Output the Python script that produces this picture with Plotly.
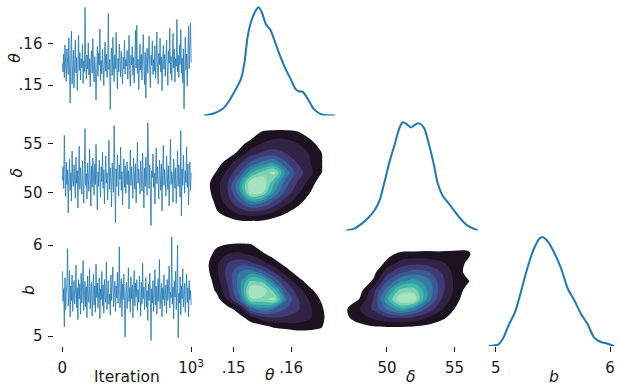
import numpy as np
import plotly.graph_objects as go

W, H = 621, 387

# ---------------- data: MCMC traces ----------------
theta = [
    0.1552, 0.1531, 0.1574, 0.1518, 0.1596, 0.1543, 0.1509, 0.1587, 0.1562, 0.1525, 0.1613, 0.1538, 0.1457, 0.1571, 0.1629, 0.1502, 0.1556, 0.1584, 0.1493, 0.1547,
    0.1608, 0.1529, 0.1566, 0.1487, 0.1551, 0.1619, 0.1535, 0.1578, 0.1512, 0.1563, 0.1541, 0.1597, 0.1504, 0.1558, 0.1532, 0.1686, 0.1548, 0.1515, 0.1572, 0.1539,
    0.1601, 0.1524, 0.1563, 0.1496, 0.1557, 0.1582, 0.1528, 0.1611, 0.1545, 0.1507, 0.1568, 0.1536, 0.1464, 0.1553, 0.1592, 0.1521, 0.1577, 0.1548, 0.1634, 0.1511,
    0.1559, 0.1527, 0.1585, 0.1542, 0.1499, 0.1566, 0.1603, 0.1533, 0.1574, 0.1518, 0.1549, 0.1671, 0.1537, 0.1561, 0.1441, 0.1555, 0.1589, 0.1523, 0.1614, 0.1546,
    0.1508, 0.1572, 0.1539, 0.1626, 0.1553, 0.1491, 0.1564, 0.1531, 0.1598, 0.1543, 0.1519, 0.1581, 0.1556, 0.1502, 0.1567, 0.1538, 0.1607, 0.1526, 0.1561, 0.1545,
    0.1583, 0.1514, 0.1552, 0.1619, 0.1534, 0.1497, 0.1571, 0.1548, 0.1592, 0.1523, 0.1566, 0.1505, 0.1557, 0.1631, 0.1541, 0.1643, 0.1528, 0.1562, 0.1489, 0.1554,
    0.1599, 0.1536, 0.1573, 0.1512, 0.1559, 0.1621, 0.1544, 0.1501, 0.1578, 0.1469, 0.1551, 0.1588, 0.1529, 0.1565, 0.1617, 0.1539, 0.1494, 0.1572, 0.1547, 0.1606,
    0.1525, 0.1561, 0.1533, 0.1594, 0.1516, 0.1558, 0.1627, 0.1542, 0.1503, 0.1576, 0.1549, 0.1612, 0.1531, 0.1567, 0.1486, 0.1555, 0.1595, 0.1538, 0.1573, 0.1521,
    0.1564, 0.1608, 0.1546, 0.1499, 0.1582, 0.1553, 0.1636, 0.1527, 0.1569, 0.1511, 0.1559, 0.1624, 0.1541, 0.1586, 0.1507, 0.1563, 0.1545, 0.1657, 0.1532, 0.1571,
    0.1518, 0.1596, 0.1549, 0.1633, 0.1528, 0.1565, 0.1505, 0.1587, 0.1443, 0.1557, 0.1615, 0.1536, 0.1574, 0.1497, 0.1562, 0.1641, 0.1539, 0.1581, 0.1648, 0.1554,
]
delta = [
    51.2, 52.6, 50.4, 55.8, 51.9, 49.6, 53.1, 50.8, 52.3, 47.9, 51.5, 53.4, 50.2, 52.0, 49.1, 54.2, 51.1, 50.6, 52.8, 51.4,
    49.4, 53.6, 50.9, 52.2, 48.4, 51.7, 54.7, 50.3, 52.5, 51.0, 49.8, 53.2, 51.6, 48.9, 52.4, 56.5, 50.7, 51.9, 49.3, 53.0,
    51.3, 50.1, 54.4, 51.8, 48.6, 52.7, 50.5, 53.5, 51.2, 49.7, 52.9, 50.8, 54.9, 51.4, 48.2, 52.1, 50.6, 53.3, 51.0, 49.5,
    52.6, 51.1, 54.1, 50.4, 52.3, 48.8, 51.6, 53.7, 50.9, 52.0, 49.2, 51.8, 55.3, 50.3, 52.5, 51.5, 48.5, 53.0, 51.2, 50.0,
    56.8, 51.7, 46.9, 52.4, 50.6, 53.8, 51.0, 49.6, 52.8, 51.3, 54.6, 50.2, 52.1, 48.7, 51.9, 53.4, 50.5, 52.7, 49.9, 51.6,
    53.1, 50.8, 52.2, 48.3, 51.4, 54.3, 50.7, 52.6, 51.1, 49.4, 53.5, 51.8, 50.3, 52.9, 48.9, 51.5, 55.1, 50.9, 52.4, 51.0,
    49.8, 53.2, 51.6, 50.1, 54.0, 51.3, 48.4, 52.5, 50.6, 53.6, 51.9, 49.7, 57.1, 51.2, 50.4, 52.8, 49.1, 46.6, 52.2, 51.5,
    53.9, 50.5, 52.0, 48.8, 51.7, 54.5, 50.9, 52.6, 51.1, 49.3, 53.3, 51.4, 50.2, 52.9, 48.1, 51.8, 54.8, 50.7, 52.3, 51.0,
    49.6, 53.7, 51.5, 50.3, 52.7, 48.6, 51.2, 55.4, 50.8, 52.1, 51.6, 49.0, 53.4, 51.9, 50.4, 52.5, 48.9, 51.3, 54.2, 50.6,
    52.8, 51.1, 49.5, 56.3, 47.6, 52.4, 50.7, 53.8, 51.4, 49.9, 52.2, 51.0, 54.6, 50.5, 52.9, 48.7, 51.7, 53.1, 50.2, 52.0,
]
b = [
    5.71, 5.38, 5.52, 5.10, 5.64, 5.29, 5.47, 5.58, 5.96, 5.33, 5.44, 5.72, 5.21, 5.55, 5.39, 5.67, 5.27, 5.49, 5.61, 5.35,
    5.46, 5.78, 5.31, 5.53, 5.18, 5.62, 5.41, 5.57, 5.24, 5.69, 5.36, 5.50, 5.83, 5.28, 5.45, 5.60, 5.32, 5.54, 5.20, 5.66,
    5.43, 5.37, 5.74, 5.30, 5.51, 5.59, 5.22, 5.48, 5.68, 5.34, 5.55, 5.26, 5.79, 5.42, 5.58, 5.31, 5.47, 5.64, 5.19, 5.52,
    5.40, 5.71, 5.33, 5.56, 5.25, 5.62, 5.44, 5.37, 5.81, 5.29, 5.50, 5.61, 5.35, 5.46, 5.23, 5.67, 5.39, 5.53, 5.76, 5.32,
    5.48, 5.60, 5.27, 5.55, 5.42, 5.70, 5.36, 5.52, 5.98, 5.31, 5.45, 5.63, 5.21, 5.57, 5.40, 5.68, 5.34, 4.99, 5.49, 5.59,
    5.30, 5.44, 5.75, 5.38, 5.53, 5.26, 5.65, 5.41, 5.56, 5.20, 5.47, 5.72, 5.33, 5.58, 5.43, 5.62, 5.28, 5.51, 5.37, 5.66,
    5.45, 5.22, 5.59, 5.35, 5.80, 5.41, 5.54, 5.29, 5.48, 5.64, 5.32, 5.50, 5.17, 5.57, 5.39, 5.69, 5.44, 4.95, 5.52, 5.36,
    5.61, 5.27, 5.46, 5.73, 5.34, 5.55, 5.24, 5.49, 5.63, 5.38, 5.84, 5.30, 5.47, 5.58, 5.21, 5.53, 5.40, 5.67, 5.33, 5.45,
    5.56, 5.25, 5.62, 5.39, 5.50, 5.77, 5.31, 5.48, 5.42, 6.09, 5.35, 5.54, 5.19, 5.60, 5.43, 5.71, 5.29, 5.52, 6.00, 4.98,
    5.47, 5.36, 5.65, 5.23, 5.55, 5.41, 5.74, 5.32, 5.49, 5.58, 5.26, 5.44, 5.68, 5.37, 5.53, 5.21, 5.61, 5.40, 5.50, 5.34,
]
n_iterations = 1000

# ---------------- data: 1-D marginal densities (diagonal) ----------------
theta_kde_x = [0.14483, 0.14638, 0.14810, 0.14925, 0.15040, 0.15126, 0.15184, 0.15241, 0.15299, 0.15385,
               0.15431, 0.15489, 0.15557, 0.15644, 0.15730, 0.15816, 0.15902, 0.15989, 0.16075, 0.16132,
               0.16207, 0.16305, 0.16391, 0.16534, 0.16764]
theta_kde_y = [0, 1.8, 7.0, 15.8, 28.0, 38.5, 54.3, 82.2, 98.0, 110.3,
               113.7, 108.5, 96.3, 89.3, 75.3, 61.2, 49.0, 38.5, 28.0, 25.5,
               24.5, 15.8, 7.0, 1.0, 0]
delta_kde_x = [46.97, 47.63, 48.12, 48.61, 49.09, 49.46, 49.82, 50.19, 50.56, 50.92,
               51.17, 51.46, 51.78, 52.14, 52.39, 52.75, 53.12, 53.48, 53.73, 54.10,
               54.58, 54.95, 55.44, 55.93, 56.73]
delta_kde_y = [0, 0.006, 0.018, 0.034, 0.055, 0.082, 0.132, 0.187, 0.233, 0.279,
               0.295, 0.290, 0.281, 0.290, 0.292, 0.279, 0.233, 0.178, 0.132, 0.096,
               0.073, 0.055, 0.032, 0.014, 0]
b_kde_x = [4.936, 5.023, 5.066, 5.109, 5.167, 5.211, 5.254, 5.297, 5.341, 5.384, 5.413,
           5.456, 5.514, 5.572, 5.630, 5.688, 5.746, 5.803, 5.861, 5.919, 5.977, 6.035]
b_kde_y = [0, 0.037, 0.181, 0.436, 0.726, 1.090, 1.489, 1.853, 2.143, 2.326, 2.348,
           2.252, 1.999, 1.672, 1.236, 0.981, 0.691, 0.473, 0.181, 0.087, 0.050, 0]

# ---------------- data: 2-D joint densities (level index) ----------------
theta_grid = [0.145, 0.147, 0.149, 0.151, 0.153, 0.155, 0.157, 0.159, 0.161, 0.163, 0.165, 0.167]
delta_grid_rows = [57, 56, 55, 54, 53, 52, 51, 50, 49, 48, 47, 46]
theta_delta_level = [
    [0, 0, 0, 0, 0, 0, 0, 0, 0, 0, 0, 0],
    [0, 0, 0, 0, 0.4, 1.3, 1.5, 1.5, 1.3, 0.6, 0, 0],
    [0, 0, 0, 0.6, 1.4, 2.0, 2.4, 2.4, 2.0, 1.5, 0.6, 0],
    [0, 0, 0.4, 1.3, 2.5, 3.2, 3.4, 3.0, 2.5, 2.0, 1.2, 0],
    [0, 0.5, 1.5, 2.8, 4.3, 5.3, 6.0, 4.2, 3.0, 2.2, 1.2, 0.2],
    [0.1, 1.1, 2.3, 4.0, 6.8, 8.4, 9.4, 5.8, 3.6, 2.5, 1.2, 0],
    [0.6, 1.5, 3.0, 5.8, 9.9, 10.0, 7.2, 4.6, 3.0, 1.8, 0.5, 0],
    [0.5, 1.5, 3.0, 5.7, 9.8, 9.2, 6.0, 3.8, 2.3, 1.2, 0, 0],
    [0, 1.3, 2.5, 4.0, 5.8, 5.2, 3.8, 2.5, 1.5, 0.5, 0, 0],
    [0, 0.9, 1.6, 2.4, 2.8, 2.6, 2.0, 1.2, 0.5, 0, 0, 0],
    [0, 0.2, 0.5, 0.8, 0.85, 0.75, 0.4, 0.1, 0, 0, 0, 0],
    [0, 0, 0, 0, 0, 0, 0, 0, 0, 0, 0, 0],
]
b_grid_rows = [6.1, 6.0, 5.9, 5.8, 5.7, 5.6, 5.5, 5.4, 5.3, 5.2, 5.1, 5.0, 4.9]
theta_b_level = [
    [0, 0, 0, 0, 0, 0, 0, 0, 0, 0, 0, 0],
    [0, 0.8, 1.1, 1.2, 1.1, 0.4, 0, 0, 0, 0, 0, 0],
    [0.3, 1.4, 2.0, 2.2, 1.8, 1.2, 0.5, 0, 0, 0, 0, 0],
    [0.6, 1.8, 3.0, 3.6, 3.2, 2.4, 1.5, 0.6, 0, 0, 0, 0],
    [0.5, 1.8, 3.4, 5.0, 5.6, 4.5, 3.0, 1.6, 0.6, 0, 0, 0],
    [0.2, 1.5, 3.2, 5.5, 8.2, 7.8, 5.0, 3.0, 1.6, 0.6, 0, 0],
    [0, 1.2, 2.8, 5.4, 9.9, 9.8, 7.6, 4.2, 2.6, 1.4, 0.5, 0],
    [0, 0.5, 2.2, 4.6, 8.8, 8.7, 9.4, 5.2, 3.2, 2.0, 1.0, 0.2],
    [0, 0, 0.6, 1.6, 4.8, 5.8, 5.0, 4.0, 3.2, 2.3, 1.3, 0.3],
    [0, 0, 0, 0.6, 1.5, 2.6, 3.0, 2.8, 2.6, 2.2, 1.4, 0.4],
    [0, 0, 0, 0.2, 0.4, 0.6, 1.1, 1.3, 1.5, 1.4, 1.2, 0.2],
    [0, 0, 0, 0, 0, 0, 0, 0, 0.2, 0.3, 0, 0],
    [0, 0, 0, 0, 0, 0, 0, 0, 0, 0, 0, 0],
]
delta_grid = [47, 48, 49, 50, 51, 52, 53, 54, 55, 56, 57]
delta_b_level = [
    [0, 0, 0, 0, 0, 0, 0, 0, 0, 0, 0],
    [0, 0, 0, 0, 0, 0, 0.2, 0.3, 0.5, 0.6, 0],
    [0, 0, 0, 0.6, 1.3, 1.4, 1.4, 1.3, 1.3, 1.2, 0],
    [0, 0, 0.1, 1.3, 2.4, 2.7, 2.6, 2.2, 1.6, 0.8, 0],
    [0, 0, 0.6, 2.6, 3.8, 4.5, 4.2, 3.0, 1.7, 0.6, 0],
    [0, 0.1, 1.2, 4.0, 5.8, 6.5, 5.5, 3.4, 1.8, 1.1, 0],
    [0, 0.6, 2.6, 5.6, 8.4, 8.6, 6.0, 3.4, 1.8, 0.5, 0],
    [0, 1.1, 3.0, 6.7, 10.0, 9.8, 5.6, 3.0, 1.5, 0.2, 0],
    [0.9, 2.0, 3.2, 5.2, 6.8, 5.7, 3.8, 2.2, 1.0, 0, 0],
    [0.8, 1.6, 2.2, 2.8, 3.0, 2.7, 2.0, 1.3, 0.5, 0, 0],
    [0.2, 0.6, 0.9, 1.0, 1.0, 0.9, 0.7, 0.3, 0, 0, 0],
    [0, 0, 0, 0, 0, 0, 0, 0, 0, 0, 0],
    [0, 0, 0, 0, 0, 0, 0, 0, 0, 0, 0],
]

# ---------------- layout geometry (pixels) ----------------
col_px = {0: (55, 200), 1: (206, 339), 2: (349.5, 482.5), 3: (493, 621)}
row_px = {0: (1.3, 115.5), 1: (116.3, 230.5), 2: (231.3, 346)}
# pixel calibration: (value1, pixel1, value2, pixel2)
col_cal = {0: (0, 63, 1000, 193), 1: (0.15, 236, 0.16, 294), 2: (50, 390.7, 55, 459), 3: (5, 500.7, 6, 616)}
row_cal = {0: (0.15, 85, 0.16, 43.3), 1: (50, 192.3, 55, 143.3), 2: (5, 336, 6, 245)}


def xrange_for(c):
    v1, p1, v2, p2 = col_cal[c]
    s = (v2 - v1) / (p2 - p1)
    a, bb = col_px[c]
    return [v1 + (a - p1) * s, v1 + (bb - p1) * s]


def yrange_for(r):
    v1, p1, v2, p2 = row_cal[r]
    s = (v2 - v1) / (p2 - p1)
    a, bb = row_px[r]
    return [v1 + (bb - p1) * s, v1 + (a - p1) * s]


def xdom(c):
    a, bb = col_px[c]
    return [a / W, min(bb / W, 1.0)]


def ydom(r):
    a, bb = row_px[r]
    return [1 - bb / H, 1 - a / H]


BLUE = "#1f77b4"
FONT = "DejaVu Sans"
TXT = "#1a1a1a"
mako_bands = ["rgba(0,0,0,0)", "#1c1220", "#312346", "#403b77", "#3a5a94",
              "#367aa2", "#379aa9", "#44b9ad", "#7ed4b1", "#a9e2c1"]
colorscale = [[i / 9, c] for i, c in enumerate(mako_bands)]

fig = go.Figure()
iters = np.linspace(0, n_iterations, len(theta))

# panels: index -> (row, col)
panels = {1: (0, 0), 2: (1, 0), 3: (2, 0), 4: (0, 1), 5: (1, 1), 6: (2, 1), 7: (1, 2), 8: (2, 2), 9: (2, 3)}


def ax(i, kind):
    return kind if i == 1 else f"{kind}{i}"


# trace plots
for i, series in zip([1, 2, 3], [theta, delta, b]):
    fig.add_trace(go.Scatter(x=iters, y=series, mode="lines",
                             line=dict(color=BLUE, width=0.9), opacity=0.9,
                             xaxis=ax(i, "x"), yaxis=ax(i, "y"), showlegend=False, hoverinfo="skip"))

# diagonal densities
for i, (kx, ky) in zip([4, 7, 9], [(theta_kde_x, theta_kde_y), (delta_kde_x, delta_kde_y), (b_kde_x, b_kde_y)]):
    fig.add_trace(go.Scatter(x=kx, y=ky, mode="lines",
                             line=dict(color=BLUE, width=2, shape="spline", smoothing=0.7),
                             xaxis=ax(i, "x"), yaxis=ax(i, "y"), showlegend=False, hoverinfo="skip"))

# joint densities
for i, (gx, gy, z) in zip([5, 6, 8], [(theta_grid, delta_grid_rows, theta_delta_level),
                                       (theta_grid, b_grid_rows, theta_b_level),
                                       (delta_grid, b_grid_rows, delta_b_level)]):
    fig.add_trace(go.Contour(x=gx, y=gy[::-1], z=z[::-1],
                             contours=dict(start=1, end=9, size=1, coloring="fill"),
                             colorscale=colorscale, showscale=False,
                             line=dict(width=0, smoothing=1.0),
                             xaxis=ax(i, "x"), yaxis=ax(i, "y"), hoverinfo="skip"))

layout = dict(width=W, height=H, margin=dict(l=0, r=0, t=0, b=0), autosize=False,
              paper_bgcolor="white", plot_bgcolor="white", showlegend=False,
              font=dict(family=FONT, size=15, color=TXT))

base = dict(showgrid=False, zeroline=False, showline=False, ticks="", showticklabels=False)
diag_max = {4: max(theta_kde_y), 7: max(delta_kde_y), 9: max(b_kde_y)}

for i, (r, c) in panels.items():
    xa = dict(base, domain=xdom(c), range=xrange_for(c), anchor=ax(i, "y"))
    if i in diag_max:
        ya = dict(base, domain=ydom(r), range=[0, diag_max[i] * 1.055], anchor=ax(i, "x"))
    else:
        ya = dict(base, domain=ydom(r), range=yrange_for(r), anchor=ax(i, "x"))
    layout["xaxis" if i == 1 else f"xaxis{i}"] = xa
    layout["yaxis" if i == 1 else f"yaxis{i}"] = ya

tick_style = dict(ticks="outside", ticklen=5, tickwidth=1, tickcolor=TXT, showticklabels=True,
                  tickfont=dict(family=FONT, size=15, color=TXT), ticklabelstandoff=3)

ytick = {1: ([0.15, 0.16], [".15", ".16"]), 2: ([50, 55], ["50", "55"]), 3: ([5, 6], ["5", "6"])}
for i, (vals, txt) in ytick.items():
    key = "yaxis" if i == 1 else f"yaxis{i}"
    layout[key].update(tick_style, tickvals=vals, ticktext=txt)

xtick = {3: ([0, 1000], ["0", "10<sup>3</sup>"]), 6: ([0.15, 0.16], [".15", ".16"]),
         8: ([50, 55], ["50", "55"]), 9: ([5, 6], ["5", "6"])}
for i, (vals, txt) in xtick.items():
    layout[f"xaxis{i}"].update(tick_style, tickvals=vals, ticktext=txt)

fig.update_layout(**layout)

# axis titles
titles = [("<i>θ</i>", 15, 58, -90), ("<i>δ</i>", 16.7, 173, -90), ("<i>b</i>", 29.3, 290, -90),
          ("Iteration", 128, 376.7, 0), ("<i>θ</i>", 273, 375, 0), ("<i>δ</i>", 414, 376.7, 0),
          ("<i>b</i>", 559, 376.7, 0)]
for text, x, y, ang in titles:
    fig.add_annotation(text=text, x=x / W, y=1 - y / H, xref="paper", yref="paper",
                       showarrow=False, textangle=ang, xanchor="center", yanchor="middle",
                       font=dict(family=FONT, size=15.5, color=TXT))

fig.write_html("out.html",
               config={"displayModeBar": False, "staticPlot": True},
               post_script="document.body.style.margin='0';document.body.style.padding='0';"
                           "document.documentElement.style.overflow='hidden';")
